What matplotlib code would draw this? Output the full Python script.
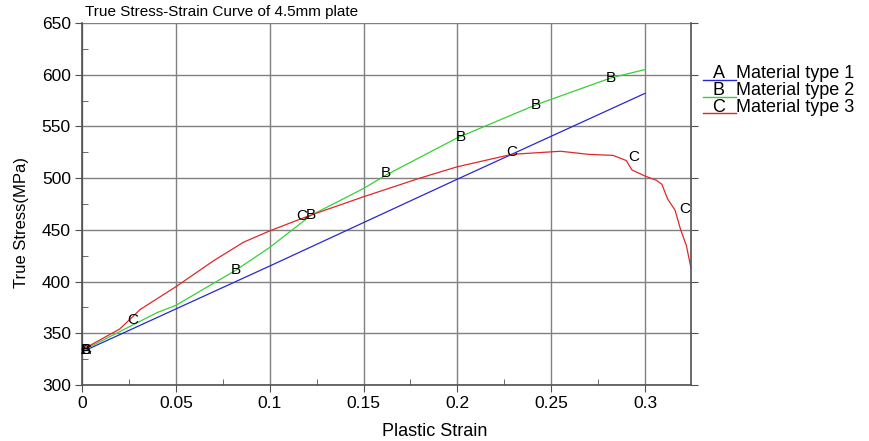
import matplotlib
matplotlib.use("Agg")
import matplotlib.pyplot as plt
from matplotlib.lines import Line2D
from matplotlib.ticker import MultipleLocator

plt.rcParams['font.family'] = ['Liberation Sans', 'DejaVu Sans']

# data
strain_a = [0.0, 0.1, 0.2, 0.3]
stress_a = [332, 415, 499, 582]

strain_b = [0.0, 0.04, 0.05, 0.082, 0.1, 0.122, 0.15, 0.162, 0.2, 0.242, 0.282, 0.3]
stress_b = [333, 370, 377, 411, 433, 464, 490, 503, 539, 571, 597, 605]

strain_c = [0.0, 0.02, 0.027, 0.031, 0.05, 0.07, 0.086, 0.1, 0.12, 0.15, 0.18,
            0.2, 0.229, 0.255, 0.27, 0.283, 0.29, 0.293, 0.3, 0.306, 0.309,
            0.312, 0.316, 0.319, 0.322, 0.3245]
stress_c = [334, 354, 366, 373, 395, 420, 438, 449, 463, 482, 500,
            511, 523, 526, 523, 522, 517, 508, 502, 498, 494,
            480, 469, 450, 435, 413]

# letter markers along curves
marks_a = [(0.002, 334)]
marks_b = [(0.002, 334), (0.082, 411), (0.122, 464), (0.162, 505), (0.202, 540),
           (0.242, 571), (0.282, 597)]
marks_c = [(0.002, 334), (0.027, 363), (0.117, 463), (0.229, 525), (0.294, 520),
           (0.321, 470)]

names = ["Material type 1", "Material type 2", "Material type 3"]
letters = ["A", "B", "C"]
colors = ["#2828d0", "#38d038", "#e02828"]

fig = plt.figure(figsize=(8.69, 4.41), dpi=100)
ax = fig.add_axes([82 / 869, 1 - 385 / 441, 609 / 869, 362 / 441])

ax.plot(strain_a, stress_a, color=colors[0], lw=0.9)
ax.plot(strain_b, stress_b, color=colors[1], lw=0.9)
ax.plot(strain_c, stress_c, color=colors[2], lw=0.9)

for marks, letter in [(marks_a, "A"), (marks_b, "B"), (marks_c, "C")]:
    for x, y in marks:
        ax.text(x, y, letter, fontsize=11, ha="center", va="center", color="black")

ax.set_xlim(0, 0.3245)
ax.set_ylim(300, 650)
ax.xaxis.set_minor_locator(MultipleLocator(0.025))
ax.yaxis.set_major_locator(MultipleLocator(50))
ax.yaxis.set_minor_locator(MultipleLocator(25))
ax.set_xticks([0, 0.05, 0.1, 0.15, 0.2, 0.25, 0.3])
ax.set_xticklabels(["0", "0.05", "0.1", "0.15", "0.2", "0.25", "0.3"])

ax.grid(True, which="major", color="#808080", lw=1)
ax.tick_params(which="major", direction="out", length=5, color="#505050",
               labelsize=12.5, pad=3, right=True)
ax.tick_params(which="minor", direction="in", length=4, color="#505050")
ax.tick_params(axis="y", which="major", labelright=False)
for side in ["left", "bottom", "right"]:
    ax.spines[side].set_color("#505050")
    ax.spines[side].set_linewidth(1.2)
ax.spines["top"].set_visible(False)

fig.text(85 / 869, 1 - 12 / 441, "True Stress-Strain Curve of 4.5mm plate",
         fontsize=11, ha="left", va="center")
fig.text(435 / 869, 1 - 432 / 441, "Plastic Strain", fontsize=13,
         ha="center", va="center")
fig.text(22 / 869, 1 - 223 / 441, "True Stress(MPa)", fontsize=12,
         ha="center", va="center", rotation=90)

# legend built by hand: coloured segment with letter, then name
for i in range(3):
    yy = 1 - (74 + i * 16.5) / 441
    fig.add_artist(Line2D([703 / 869, 736 / 869], [yy - 6 / 441, yy - 6 / 441],
                          color=colors[i], lw=1, transform=fig.transFigure))
    fig.text(719 / 869, yy, letters[i], fontsize=13, ha="center", va="center")
    fig.text(736 / 869, yy, names[i], fontsize=13, ha="left", va="center")

fig.savefig("out.png", dpi=100)
